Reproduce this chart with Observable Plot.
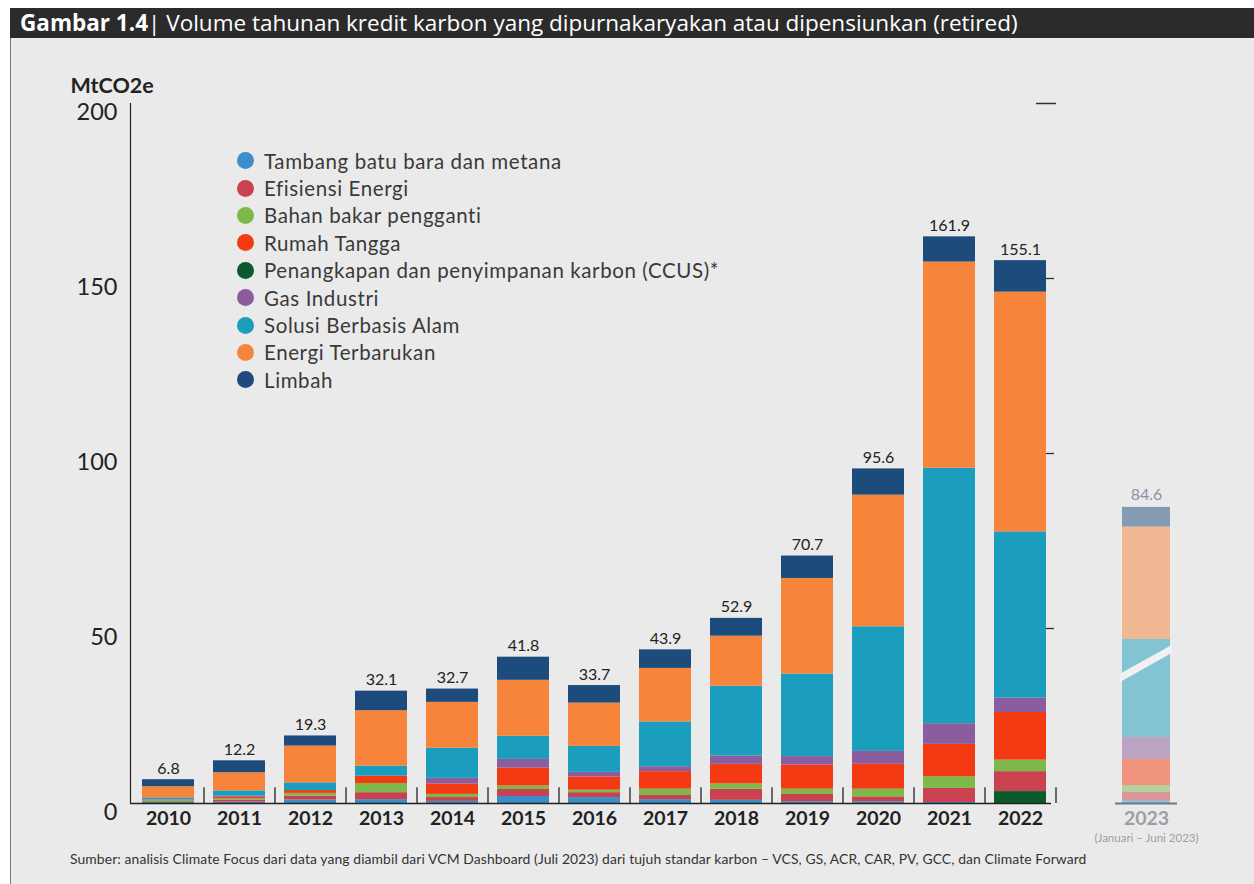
<!DOCTYPE html>
<html><head><meta charset="utf-8">
<script src="https://cdn.jsdelivr.net/npm/d3@7"></script>
<script src="https://cdn.jsdelivr.net/npm/@observablehq/plot@0.6"></script>
<style>
body{margin:0;background:#fff;width:1254px;height:884px;overflow:hidden;font-family:Lato,sans-serif;}
#page{position:relative;width:1254px;height:884px;}
#panel{position:absolute;left:10px;top:38px;width:1244px;height:846px;background:#eaeaea;border-left:1px solid #777;}
#title{position:absolute;left:10px;top:8px;width:1244px;height:30px;background:#2b2b2b;color:#fff;font-family:"Open Sans",sans-serif;font-size:22.5px;line-height:30px;padding-left:10px;box-sizing:border-box;letter-spacing:0px;white-space:nowrap;}
#title b{font-weight:700;}
#chart{position:absolute;left:0;top:38px;}
#legend{position:absolute;left:237px;top:147px;}
.row{height:27.4px;display:flex;align-items:center;font-size:20.5px;letter-spacing:0.6px;color:#3a3a3a;}
.dot{width:17px;height:17px;border-radius:50%;margin-right:10px;flex:none;}
#caption{position:absolute;left:70px;top:850px;font-size:13.9px;color:#333;letter-spacing:0.1px;white-space:nowrap;}
</style></head>
<body><div id="page">
<div id="panel"></div>
<div id="title"><b>Gambar 1.4</b>| Volume tahunan kredit karbon yang dipurnakaryakan atau dipensiunkan (retired)</div>
<div id="chart"></div>
<div id="legend"></div>
<div id="caption">Sumber: analisis Climate Focus dari data yang diambil dari VCM Dashboard (Juli 2023) dari tujuh standar karbon – VCS, GS, ACR, CAR, PV, GCC, dan Climate Forward</div>
</div>
<script>
const years = ["2010","2011","2012","2013","2014","2015","2016","2017","2018","2019","2020","2021","2022","2023"];
const seriesNames = ["Tambang batu bara dan metana","Efisiensi Energi","Bahan bakar pengganti","Rumah Tangga","Penangkapan dan penyimpanan karbon (CCUS)*","Gas Industri","Solusi Berbasis Alam","Energi Terbarukan","Limbah"];
const seriesColors = ["#3b8ec9","#c8434f","#7cb84a","#f33a12","#0b5a2e","#8b5c9e","#1b9dbd","#f6853b","#1d4c7c"];
const tambang   = [0.3,0.4,1.0,1.1,0.6,2.0,1.7,1.1,0.9,0.5,0.5,0.3,0,0.8];
const efisiensi = [0.2,0.5,1.1,2.0,1.1,2.0,1.4,1.2,3.2,2.1,1.4,4.0,5.7,2.4];
const bahan     = [0.4,0.4,0.8,2.6,0.9,1.0,0.7,1.8,1.5,1.5,2.2,3.3,3.3,1.9];
const rumah     = [0.1,0.5,0.8,2.1,3.0,5.1,3.8,5.0,5.6,6.9,7.1,9.3,13.6,7.6];
const ccus      = [0,0,0,0,0,0,0,0,0,0,0,0,3.4,0];
const gas       = [0.1,0.3,0,0,1.6,2.5,1.3,1.4,2.4,2.4,3.7,5.9,4.1,6.2];
const solusi    = [0.5,1.5,2.2,2.9,8.6,6.6,7.4,12.8,19.9,23.6,35.6,73.0,47.5,28.0];
const energi    = [3.2,5.2,10.5,15.8,13.1,16.0,12.4,15.3,14.3,27.3,37.6,58.9,68.5,32.1];
const limbah    = [2.0,3.4,2.9,5.6,3.8,6.6,5.0,5.3,5.1,6.4,7.5,7.2,9.0,5.6];
const totals    = [6.8,12.2,19.3,32.1,32.7,41.8,33.7,43.9,52.9,70.7,95.6,161.9,155.1,84.6];
const yTicks = [0,50,100,150,200];
const partialYear = "2023";
const partialNote = "(Januari – Juni 2023)";
const unitLabel = "MtCO2e";

const seriesValues = [tambang,efisiensi,bahan,rumah,ccus,gas,solusi,energi,limbah];
const rows = [];
seriesNames.forEach((s,si)=>years.forEach((y,yi)=>rows.push({year:y, series:s, value:seriesValues[si][yi]})));
const stackOrder = [seriesNames[0],seriesNames[4],seriesNames[1],seriesNames[2],seriesNames[3],seriesNames[5],seriesNames[6],seriesNames[7],seriesNames[8]];
const totalRows = years.map((y,i)=>({year:y,total:totals[i]}));
const gap = " ";
const fullYears = years.filter(y=>y!==partialYear);
const xDomain = [...fullYears, gap, partialYear];
const boundaries = [...fullYears.slice(1), gap];
const fullRows = rows.filter(d=>d.year!==partialYear);
const partRows = rows.filter(d=>d.year===partialYear);
const shift = -16;

const breakMark = (index, scales, values, dims, context) => {
  const x0 = scales.x(partialYear) + shift, x1 = x0 + scales.x.bandwidth();
  const p = [[x0, scales.y(34.6)], [x0, scales.y(36.9)], [x1, scales.y(45.2)], [x1, scales.y(42.9)]];
  const el = d3.create("svg:polygon").attr("points", p.map(q=>q.join(",")).join(" ")).attr("fill", "#f1f1f1");
  return el.node();
};

const chart = Plot.plot({
  width:1254, height:810,
  marginLeft:130, marginRight:55, marginTop:65, marginBottom:45,
  style:{background:"transparent", fontFamily:"Lato, sans-serif", overflow:"visible"},
  x:{domain:xDomain, paddingInner:0.27, paddingOuter:0.15, axis:null},
  y:{domain:[0,200], axis:null},
  color:{domain:seriesNames, range:seriesColors},
  marks:[
    Plot.barY(fullRows, Plot.stackY({x:"year", y:"value", fill:"series", order:stackOrder})),
    Plot.barY(partRows, Plot.stackY({x:"year", y:"value", fill:"series", order:stackOrder, fillOpacity:0.5, dx:shift, insetLeft:2, insetRight:2})),
    breakMark,
    Plot.frame({anchor:"left", stroke:"#222", strokeWidth:1.2}),
    Plot.ruleY([0], {stroke:"#222", strokeWidth:1.3, insetRight:148}),
    Plot.tickY([0], {x:()=>partialYear, dx:shift, stroke:"#6f7a80", strokeWidth:2, insetLeft:-5, insetRight:-5}),
    Plot.ruleX(boundaries, {x:d=>d, dx:-35.5, y1:0, y2:4.5, stroke:"#222", strokeWidth:1.3}),
    Plot.tickY([50,100,150], {x:()=>gap, dx:-19, insetRight:44, stroke:"#333", strokeWidth:1.3}),
    Plot.tickY([200], {x:()=>gap, dx:-29, insetRight:32, stroke:"#333", strokeWidth:1.5}),
    Plot.text(totalRows.filter(d=>d.year!==partialYear), {x:"year", y:"total", text:d=>d.total.toFixed(1), dy:-11, fontSize:16, fill:"#222"}),
    Plot.text(totalRows.filter(d=>d.year===partialYear), {x:"year", y:"total", text:d=>d.total.toFixed(1), dx:shift, dy:-13, fontSize:16, fill:"#8a93a5"}),
    Plot.axisX(fullYears, {tickSize:0, tickPadding:8, fontSize:19.5, fontWeight:"bold", fill:"#222", label:null}),
    Plot.axisX([partialYear], {tickSize:0, tickPadding:8, dx:shift, fontSize:19.5, fontWeight:"bold", fill:"#9aa0a6", label:null}),
    Plot.text([partialNote], {x:()=>partialYear, y:()=>0, dx:shift, dy:35, fontSize:11.5, fill:"#9aa0a6", letterSpacing:"1.2px"}),
    Plot.axisY(yTicks, {tickSize:0, tickPadding:13, fontSize:23.5, dy:9, fill:"#222", label:null}),
    Plot.text([unitLabel], {frameAnchor:"top-left", dx:-60, dy:-26, fontSize:21.5, fontWeight:"bold", fill:"#222", textAnchor:"start"})
  ]
});
document.getElementById("chart").appendChild(chart);

const legend = document.getElementById("legend");
seriesNames.forEach((s,i)=>{
  const r = document.createElement("div"); r.className="row";
  const d = document.createElement("div"); d.className="dot"; d.style.background=seriesColors[i];
  const t = document.createElement("span"); t.textContent=s;
  r.appendChild(d); r.appendChild(t); legend.appendChild(r);
});
</script>
</body></html>
